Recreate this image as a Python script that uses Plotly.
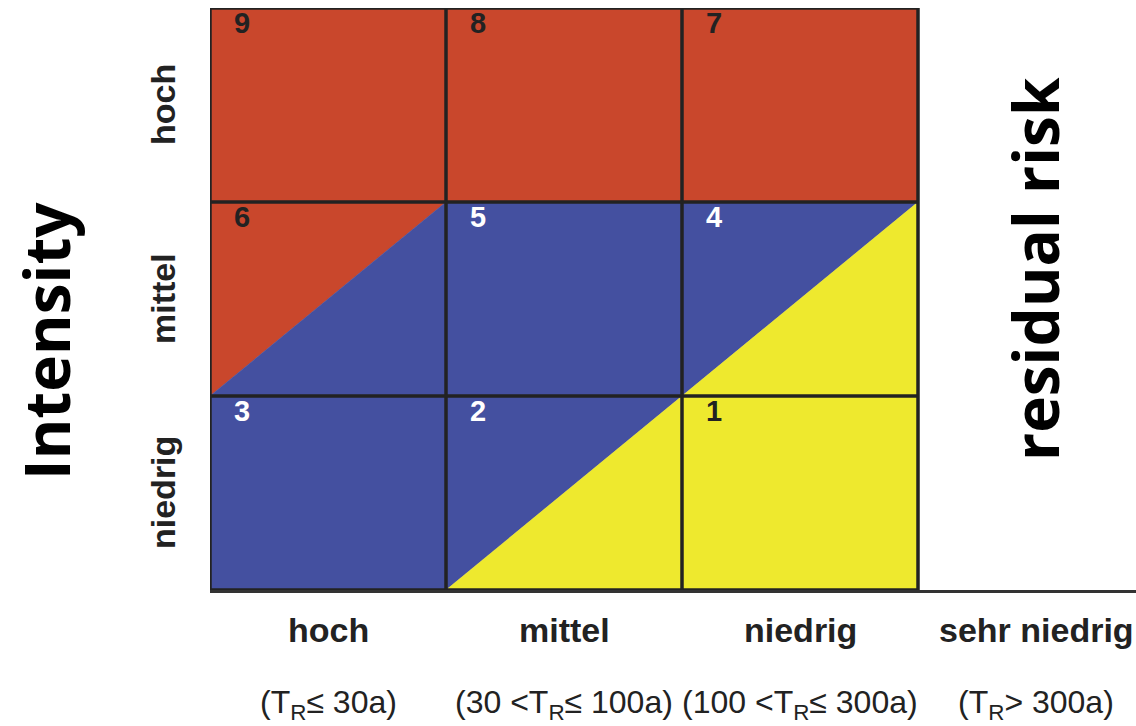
import plotly.graph_objects as go

# return period classes (x) and intensity classes (y)
x_labels = ['hoch', 'mittel', 'niedrig', 'sehr niedrig']
x_periods = ['(T<sub>R</sub>≤ 30a)', '(30 <T<sub>R</sub>≤ 100a)',
             '(100 <T<sub>R</sub>≤ 300a)', '(T<sub>R</sub>> 300a)']
y_labels = ['niedrig', 'mittel', 'hoch']

# cell numbers, rows from niedrig (bottom) to hoch (top)
cell_numbers = [[3, 2, 1],
                [6, 5, 4],
                [9, 8, 7]]

# hazard level of the upper-left and lower-right half of each cell
upper_level = [['mid', 'mid', 'low'],
               ['high', 'mid', 'mid'],
               ['high', 'high', 'high']]
lower_level = [['mid', 'low', 'low'],
               ['mid', 'mid', 'low'],
               ['high', 'high', 'high']]

y_title = 'Intensity'
side_title = 'residual risk'

level_colors = {'high': '#C9472C', 'mid': '#4450A0', 'low': '#EEE92E'}
number_colors = {'high': '#222222', 'mid': '#FFFFFF', 'low': '#222222'}

col_px = 236
plot_w = 926
plot_h = 582
x_max = plot_w / col_px


def fill(xs, ys, level):
    return go.Scatter(x=xs, y=ys, fill='toself', mode='lines',
                      fillcolor=level_colors[level],
                      line=dict(color=level_colors[level], width=0.5),
                      hoverinfo='skip', showlegend=False)


fig = go.Figure()

for r in range(3):
    for c in range(3):
        up, lo = upper_level[r][c], lower_level[r][c]
        if up == lo:
            fig.add_trace(fill([c, c, c + 1, c + 1, c], [r, r + 1, r + 1, r, r], up))
        else:
            fig.add_trace(fill([c, c, c + 1, c], [r, r + 1, r + 1, r], up))
            fig.add_trace(fill([c, c + 1, c + 1, c], [r, r, r + 1, r], lo))

# grid lines
for i in range(4):
    fig.add_trace(go.Scatter(x=[i, i], y=[0, 3], mode='lines',
                             line=dict(color='#222222', width=3.5),
                             hoverinfo='skip', showlegend=False))
    fig.add_trace(go.Scatter(x=[0, 3], y=[i, i], mode='lines',
                             line=dict(color='#222222', width=3.5),
                             hoverinfo='skip', showlegend=False))

annotations = []
for r in range(3):
    for c in range(3):
        annotations.append(dict(
            x=c + 0.135, y=r + 1 - 0.075, xref='x', yref='y',
            xanchor='center', yanchor='middle',
            text='<b>%d</b>' % cell_numbers[r][c], showarrow=False,
            font=dict(family='Liberation Sans, Arial', size=29,
                      color=number_colors[upper_level[r][c]])))

for i, lab in enumerate(x_labels):
    annotations.append(dict(
        x=i + 0.5, y=-40 / plot_h, xref='x', yref='paper',
        xanchor='center', yanchor='middle',
        text='<b>%s</b>' % lab, showarrow=False,
        font=dict(family='Liberation Sans, Arial', size=34, color='#222222')))
    annotations.append(dict(
        x=i + 0.5, y=-114 / plot_h, xref='x', yref='paper',
        xanchor='center', yanchor='middle',
        text=x_periods[i], showarrow=False,
        font=dict(family='Liberation Sans, Arial', size=32, color='#222222')))

for i, lab in enumerate(y_labels):
    annotations.append(dict(
        x=-47 / plot_w, y=i + 0.5, xref='paper', yref='y',
        xanchor='center', yanchor='middle',
        text='<b>%s</b>' % lab, showarrow=False, textangle=-90,
        font=dict(family='Liberation Sans, Arial', size=34, color='#222222')))

annotations.append(dict(
    x=-164 / plot_w, y=1.284, xref='paper', yref='y',
    xanchor='center', yanchor='middle',
    text='<b>%s</b>' % y_title, showarrow=False, textangle=-90,
    font=dict(family='Open Sans', size=62, color='#000000')))
annotations.append(dict(
    x=3.496, y=1.655, xref='x', yref='y',
    xanchor='center', yanchor='middle',
    text='<b>%s</b>' % side_title, showarrow=False, textangle=-90,
    font=dict(family='Open Sans', size=62, color='#000000')))

fig.update_layout(
    width=1136, height=726,
    margin=dict(l=210, r=0, t=8, b=136),
    paper_bgcolor='white', plot_bgcolor='white',
    showlegend=False,
    annotations=annotations,
    xaxis=dict(range=[0, x_max], showgrid=False, zeroline=False,
               showticklabels=False, showline=True, linecolor='#333333',
               linewidth=3, fixedrange=True),
    yaxis=dict(range=[0, 3], showgrid=False, zeroline=False,
               showticklabels=False, showline=False, fixedrange=True),
)

# drop the page's default body margin so the figure fills the window
fig.write_html("out.html", config={'displayModeBar': False},
               post_script="document.body.style.margin='0px';")
